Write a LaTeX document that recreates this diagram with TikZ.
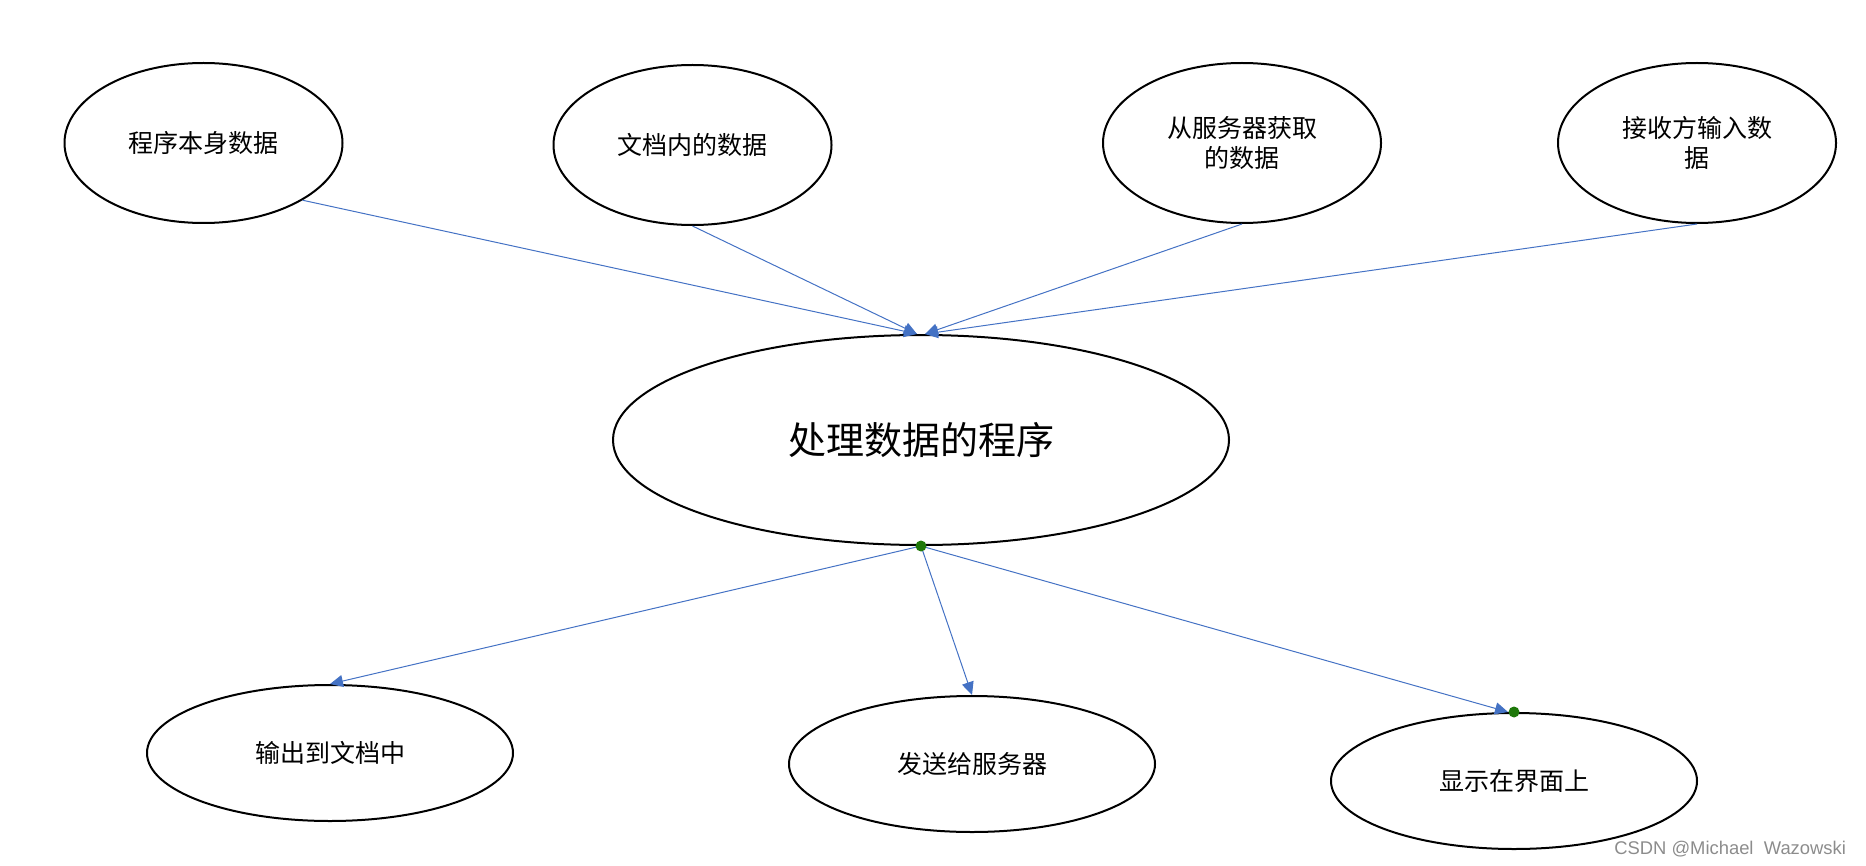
\documentclass[tikz,border=0pt]{standalone}
\usepackage{fontspec}
\setmainfont{Liberation Sans}
\newfontfamily\cjk{Noto Sans CJK SC}
\usetikzlibrary{shapes.geometric,arrows.meta}
\definecolor{flowblue}{RGB}{68,114,196}
\definecolor{dotgreen}{RGB}{30,120,10}
\begin{document}
\begin{tikzpicture}[x=0.5pt,y=-0.5pt,
  src/.style={draw, ellipse, line width=1pt, minimum width=139pt, minimum height=80pt, align=center, font=\cjk\fontsize{12.5}{15}\selectfont},
  sink/.style={draw, ellipse, line width=1pt, minimum width=183pt, minimum height=68pt, align=center, font=\cjk\fontsize{12.5}{15}\selectfont},
  flow/.style={draw=flowblue, line width=0.5pt, -{Triangle[length=6.5pt,width=6pt]}},
  dot/.style={circle, fill=dotgreen, inner sep=0pt, minimum size=5.5pt}]
\useasboundingbox (0,0) rectangle (1866,866);
\node[src] (own) at (203.5,143) {程序本身数据};
\node[src] (doc) at (692.5,145) {文档内的数据};
\node[src] (srv) at (1242,143) {从服务器获取\\的数据};
\node[src] (usr) at (1697,143) {接收方输入数\\据};
\node[draw, ellipse, line width=1pt, minimum width=308pt, minimum height=105pt, font=\cjk\fontsize{19}{23}\selectfont] (proc) at (921,440) {处理数据的程序};
\node[sink] (todoc) at (330,753) {输出到文档中};
\node[sink] (tosrv) at (972,764) {发送给服务器};
\node[sink] (toui) at (1514,781) {显示在界面上};

\coordinate (inl) at ([xshift=-2pt]proc.north);
\coordinate (inr) at ([xshift=2pt]proc.north);
\coordinate (uiin) at ([xshift=-3pt]toui.north);

\draw[flow] (own.-30) -- (inl);
\draw[flow] (doc.south) -- (inl);
\draw[flow] (srv.south) -- (inr);
\draw[flow] (usr.south) -- (inr);
\draw[flow] (proc.south) -- (todoc.north);
\draw[flow] (proc.south) -- (tosrv.north);
\draw[flow] (proc.south) -- (uiin);
\node[dot] (d1) at (proc.south) {};
\node[dot] (d2) at (toui.north) {};

\node[anchor=east, text=black!45, font=\fontsize{9.2}{11}\selectfont] (mark) at (1853,849) {CSDN @Michael~~Wazowski};
\end{tikzpicture}
\end{document}
